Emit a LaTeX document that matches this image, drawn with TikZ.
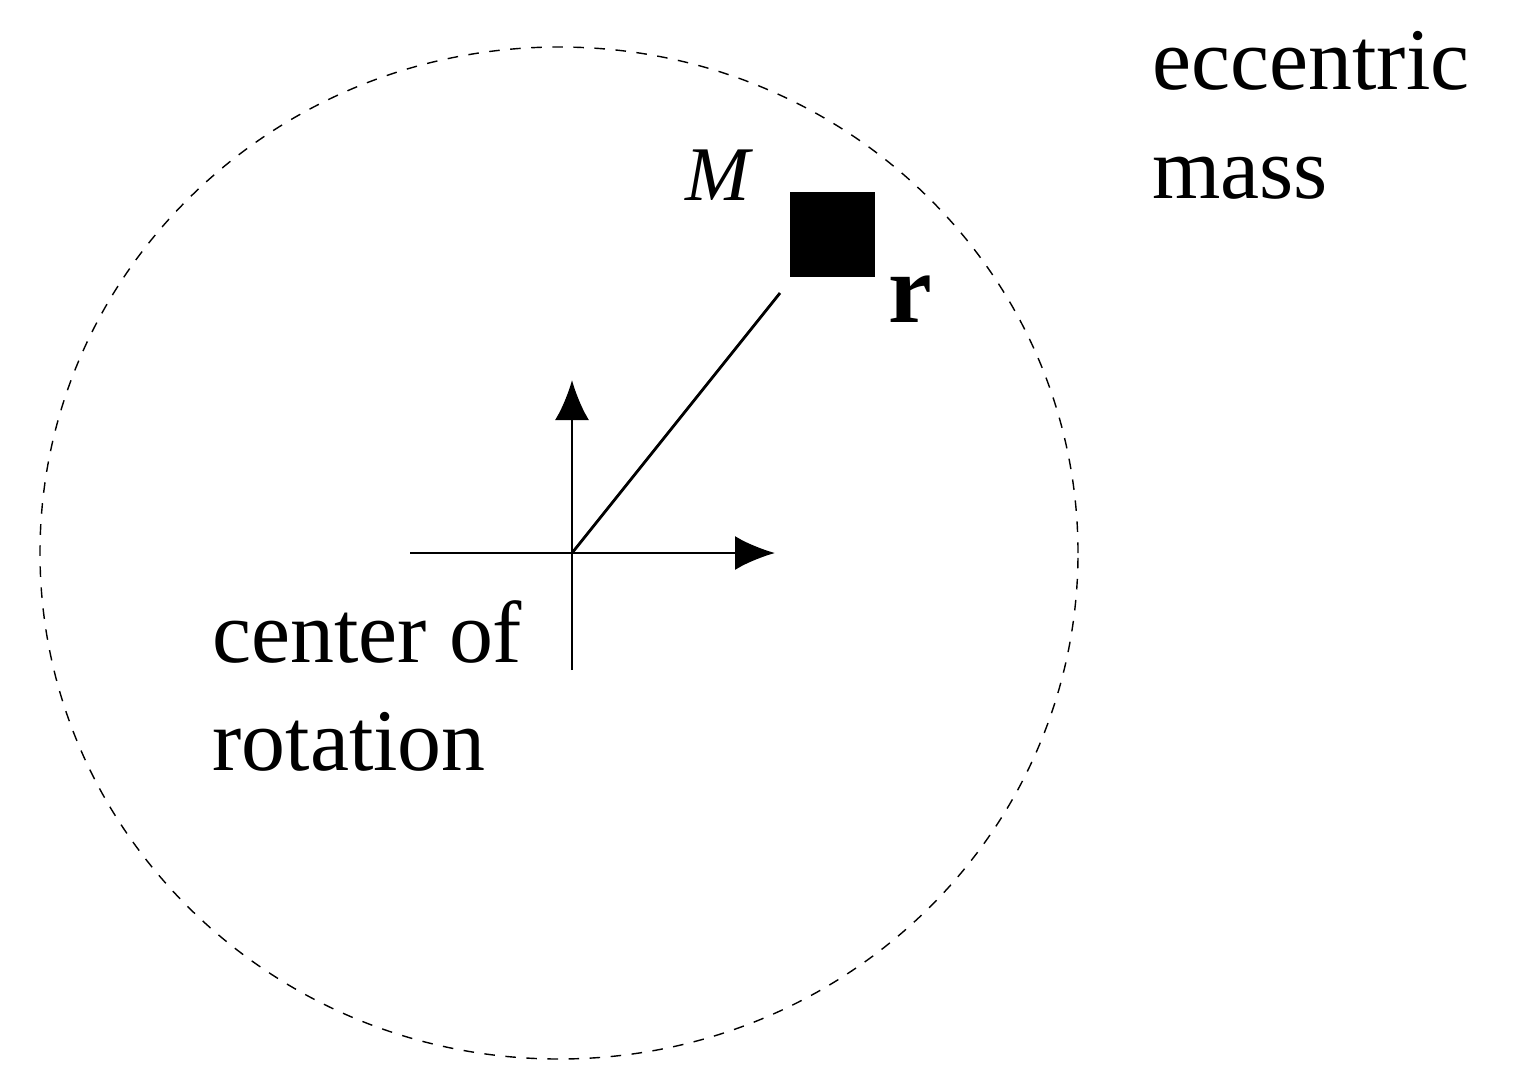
\documentclass[tikz,border=0pt]{standalone}
\usepackage{fontspec}
\setmainfont{Liberation Serif}
\usetikzlibrary{arrows.meta,positioning}
\begin{document}
\begin{tikzpicture}[
	axis/.style={thick,-{Latex[length=4mm,width=3.4mm]}},
	label/.style={font=\fontsize{25}{31}\selectfont,align=left}]
			\useasboundingbox (0,0) rectangle (15.13,10.84);
			
			% Orbit
			\draw[dashed,thin] (5.59,5.31) ellipse (5.19 and 5.06);
			
			% Axis
			\coordinate (O) at (5.72,5.31);
			\coordinate (xl) at (4.10,5.31);
			\coordinate (xr) at (7.75,5.31);
			\coordinate (yb) at (5.72,4.14);
			\coordinate (yt) at (5.72,7.04);
			\draw[axis] (xl) -- (xr);
			\draw[axis] (yb) -- (yt);
			
			% Mass
			\node[fill,minimum size=0.85cm,inner sep=0pt] (mass) at (8.325,8.5) {};
			\coordinate (arm) at (7.80,7.91);
			\draw[thick] (O) -- (arm);
			
			% nodes
			\node[font=\fontsize{22}{26}\selectfont\itshape] (M) at (7.18,9.09) {M};
			\node[font=\fontsize{28}{32}\selectfont\bfseries] (r) at (9.10,7.85) {r};
			\node[label,anchor=west] (ecc) at (11.40,9.69) {eccentric\\mass};
			\node[label,anchor=west] (cor) at (2.00,3.98) {center of\\rotation};
			
		\end{tikzpicture}
\end{document}
